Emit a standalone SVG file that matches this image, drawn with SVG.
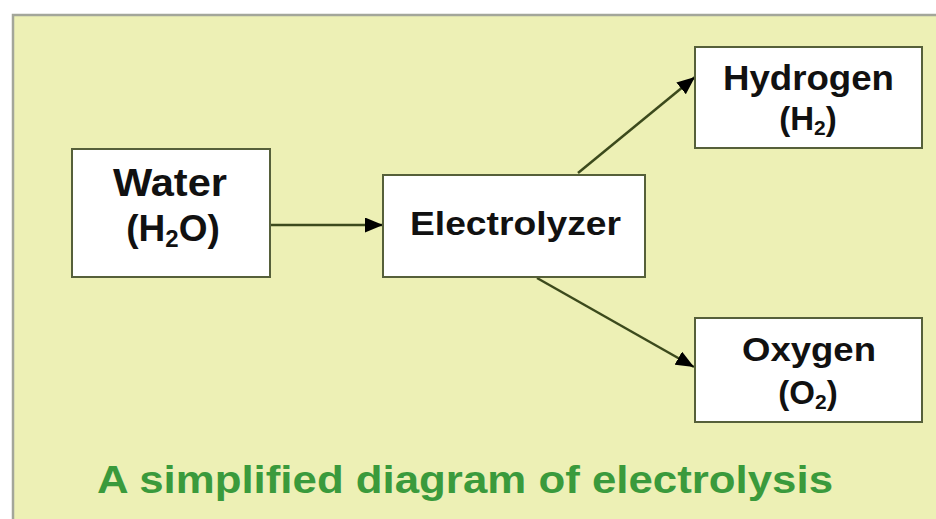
<svg xmlns="http://www.w3.org/2000/svg" width="936" height="519" viewBox="0 0 936 519">
  <style>
    .node rect { fill: #ffffff; stroke: #56603a; stroke-width: 2; }
    .label { font-family: "Liberation Sans", Arial, sans-serif; font-weight: bold; fill: #111111; }
    .conn { stroke: #3c4a1c; stroke-width: 2.5; fill: none; }
    .title { font-family: "Liberation Sans", Arial, sans-serif; font-weight: bold; fill: #3a9a3c; }
  </style>
  <defs>
    <marker id="arrow" markerUnits="userSpaceOnUse" markerWidth="19" markerHeight="15" refX="18" refY="7.5" orient="auto">
      <path d="M0,0 L18,7.5 L0,15 z" fill="#000000"/>
    </marker>
  </defs>
  <rect x="0" y="0" width="936" height="519" fill="#ffffff"/>
  <rect id="panel" x="13" y="15" width="940" height="520" fill="#edf0b5" stroke="#a3a69a" stroke-width="2.5"/>

  <g id="connectors">
    <line class="conn" x1="270" y1="225" x2="383" y2="225" marker-end="url(#arrow)"/>
    <line class="conn" x1="578" y1="173" x2="695" y2="77" marker-end="url(#arrow)"/>
    <line class="conn" x1="537" y1="278" x2="694" y2="367" marker-end="url(#arrow)"/>
  </g>

  <g id="water" class="node">
    <rect x="72" y="149" width="198" height="128"/>
    <text class="label" x="170" y="196" font-size="38" text-anchor="middle" textLength="114" lengthAdjust="spacingAndGlyphs">Water</text>
    <text class="label" x="173" y="241" font-size="37" text-anchor="middle">(H<tspan font-size="24" dy="6">2</tspan><tspan dy="-6">O)</tspan></text>
  </g>

  <g id="electrolyzer" class="node">
    <rect x="383" y="175" width="262" height="102"/>
    <text class="label" x="410" y="235" font-size="33" textLength="211" lengthAdjust="spacingAndGlyphs">Electrolyzer</text>
  </g>

  <g id="hydrogen" class="node">
    <rect x="695" y="47" width="227" height="101"/>
    <text class="label" x="808.5" y="90" font-size="35" text-anchor="middle" textLength="171" lengthAdjust="spacingAndGlyphs">Hydrogen</text>
    <text class="label" x="808" y="130" font-size="33" text-anchor="middle">(H<tspan font-size="21" dy="5">2</tspan><tspan dy="-5">)</tspan></text>
  </g>

  <g id="oxygen" class="node">
    <rect x="695" y="318" width="227" height="104"/>
    <text class="label" x="809" y="361" font-size="34" text-anchor="middle" textLength="134" lengthAdjust="spacingAndGlyphs">Oxygen</text>
    <text class="label" x="808" y="404" font-size="33" text-anchor="middle">(O<tspan font-size="21" dy="5">2</tspan><tspan dy="-5">)</tspan></text>
  </g>

  <text class="title" x="97" y="493" font-size="38" textLength="736" lengthAdjust="spacingAndGlyphs">A simplified diagram of electrolysis</text>
</svg>
